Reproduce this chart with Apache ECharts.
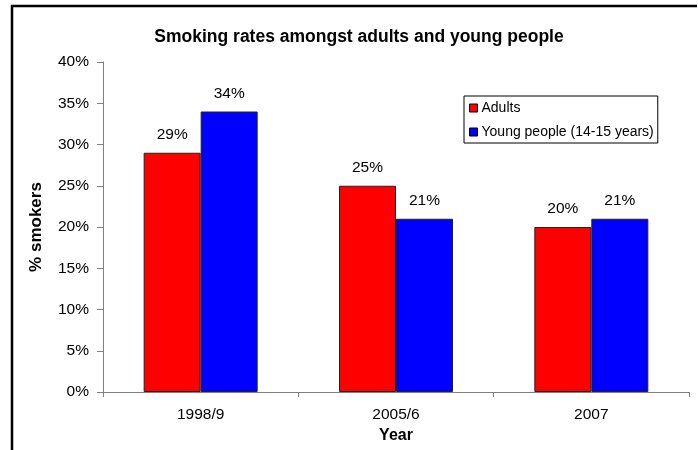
<!DOCTYPE html>
<html><head><meta charset="utf-8">
<script src="https://cdn.jsdelivr.net/npm/echarts@6/dist/echarts.min.js"></script>
<style>html,body{margin:0;padding:0;background:#fff}#c{width:698px;height:450px}</style>
</head><body><div id="c"></div>
<script>
const categories = ['1998/9', '2005/6', '2007'];
const adults = [29, 25, 20];
const youngPeople = [34, 21, 21];
const seriesNames = ['Adults', 'Young people (14-15 years)'];
const F = '"Liberation Sans", Arial, sans-serif';
const chart = echarts.init(document.getElementById('c'));
const lbl = {show: true, position: 'top', formatter: p => p.value + '%', color: '#000', fontFamily: F, fontSize: 15.5, distance: 10};
chart.setOption({
  animation: false,
  graphic: [
    {type: 'polyline', shape: {points: [[12, 450], [12, 6], [697, 6]]}, style: {fill: 'none', stroke: '#000', lineWidth: 2.5}, silent: true}
  ],
  title: {text: 'Smoking rates amongst adults and young people', left: 354, textAlign: 'center', top: 23,
    textStyle: {fontFamily: F, fontSize: 17.5, fontWeight: 'bold', color: '#000'}},
  legend: {orient: 'vertical', left: 464, top: 96, itemWidth: 8, itemHeight: 8, itemGap: 10,
    borderColor: '#000', borderWidth: 1, padding: [5, 4, 4, 5],
    textStyle: {fontFamily: F, fontSize: 14, color: '#000', padding: [0, 0, 0, -1]},
    data: seriesNames.map(n => ({name: n, icon: 'rect', itemStyle: {borderColor: '#000', borderWidth: 1}}))},
  grid: {left: 103, right: 9, top: 62, bottom: 58},
  xAxis: {type: 'category', data: categories, name: 'Year', nameLocation: 'middle', nameGap: 35,
    nameTextStyle: {fontFamily: F, fontSize: 16, fontWeight: 'bold', color: '#000'},
    axisLine: {lineStyle: {color: '#808080'}}, axisTick: {show: true, length: 5, lineStyle: {color: '#808080'}},
    axisLabel: {fontFamily: F, fontSize: 15.5, color: '#000', margin: 15}},
  yAxis: {type: 'value', min: 0, max: 40, interval: 5, name: '% smokers', nameLocation: 'middle', nameGap: 58,
    nameTextStyle: {fontFamily: F, fontSize: 17, fontWeight: 'bold', color: '#000'},
    axisLine: {show: true, lineStyle: {color: '#808080'}}, axisTick: {show: true, length: 6, lineStyle: {color: '#808080'}},
    splitLine: {show: false},
    axisLabel: {fontFamily: F, fontSize: 15.5, color: '#000', margin: 14, formatter: v => v + '%'}},
  series: [
    {name: seriesNames[0], type: 'bar', data: adults, barWidth: 57, barGap: '0%', label: lbl,
      itemStyle: {color: '#FF0000', borderColor: '#222', borderWidth: 1}},
    {name: seriesNames[1], type: 'bar', data: youngPeople, barWidth: 57, barGap: '0%', label: lbl,
      itemStyle: {color: '#0000FF', borderColor: '#222', borderWidth: 1}}
  ]
});
</script></body></html>
